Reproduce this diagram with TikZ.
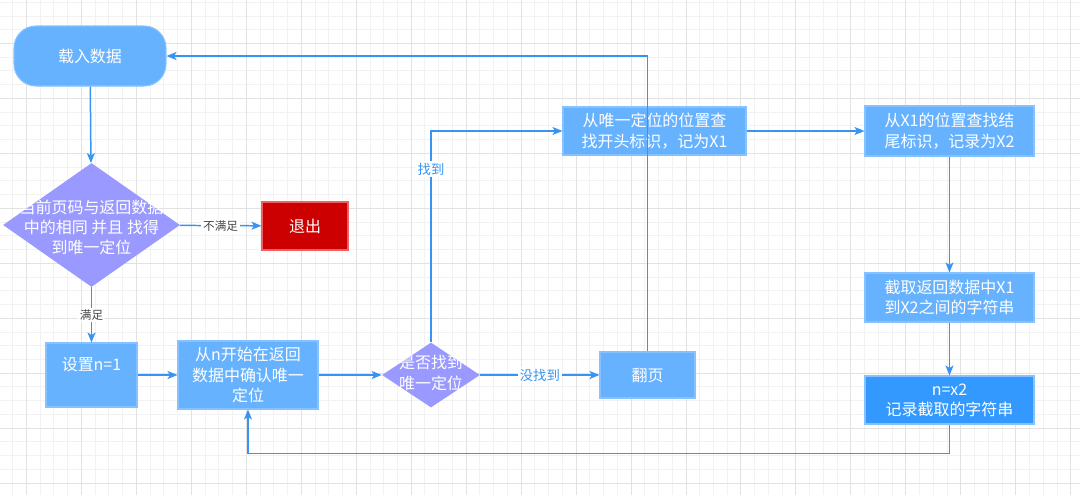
\documentclass[tikz,border=0pt]{standalone}
\usepackage{fontspec}
\setmainfont{Noto Sans CJK SC}
\usetikzlibrary{shapes.geometric,arrows.meta}
\definecolor{gridminor}{HTML}{F2F2F2}
\definecolor{gridmajor}{HTML}{E2E2E2}
\definecolor{boxblue}{HTML}{66B2FF}
\definecolor{boxline}{HTML}{85C2FF}
\definecolor{darkblue}{HTML}{3399FF}
\definecolor{diapurple}{HTML}{9999FF}
\definecolor{flowblue}{HTML}{3894F0}
\definecolor{quitred}{HTML}{CC0000}
\definecolor{quitline}{HTML}{F06060}
\definecolor{labelgrey}{HTML}{444444}

\begin{document}
\begin{tikzpicture}[x=0.02cm, y=-0.02cm,
  every node/.style={font=\fontsize{9.1}{11.5}\selectfont, text=white, align=center, inner sep=0pt},
  box/.style={rectangle, fill=boxblue, draw=boxline, line width=0.6pt},
  dia/.style={diamond, fill=diapurple, inner sep=0pt},
  flow/.style={draw=flowblue, line width=0.85pt, -{Stealth[length=0.2cm, width=0.16cm, inset=0.05cm]}},
  nolab/.style={fill=white, text=labelgrey, font=\fontsize{6.6}{8}\selectfont, inner sep=1pt},
  bluelab/.style={fill=white, text=flowblue, font=\fontsize{7.6}{9}\selectfont, inner sep=1pt}]
    \useasboundingbox (0,0) rectangle (1080,495);
    \fill[white] (0,0) rectangle (1080,495);
    \foreach \k in {0,...,77} \draw[gridminor, line width=0.5pt] ({12.7+13.74*\k},0) -- ++(0,495);
    \foreach \k in {0,...,35} \draw[gridminor, line width=0.5pt] (0,{2.2+13.74*\k}) -- ++(1080,0);
    \foreach \k in {1,5,...,77} \draw[gridmajor, line width=0.5pt] ({12.7+13.74*\k},0) -- ++(0,495);
    \foreach \k in {3,7,...,35} \draw[gridmajor, line width=0.5pt] (0,{2.2+13.74*\k}) -- ++(1080,0);

    \node[box, rounded corners=0.44cm, minimum width=3.04cm, minimum height=1.2cm] (load) at (90,56) {载入数据};
    \node[dia, minimum width=3.54cm, minimum height=2.48cm] (check) at (91.5,225) {};
    \node (checktext) at (91.5,227.5) {当前页码与返回数据\\中的相同 并且 找得\\到唯一定位};
    \node[box, fill=quitred, draw=quitline, minimum width=1.72cm, minimum height=0.96cm] (quit) at (305,226) {退出};
    \node[box, minimum width=1.82cm, minimum height=1.28cm, label={[yshift=0.2cm]center:设置n=1}] (setn) at (91.5,375) {};
    \node[box, minimum width=2.8cm, minimum height=1.36cm] (scan) at (248,375) {从n开始在返回\\数据中确认唯一\\定位};
    \node[dia, minimum width=1.96cm, minimum height=1.3cm] (found) at (431,375) {};
    \node (foundtext) at (431,373) {是否找到\\唯一定位};
    \node[box, minimum width=1.9cm, minimum height=0.92cm] (page) at (647.5,375) {翻页};
    \node[box, minimum width=3.66cm, minimum height=0.96cm] (headx) at (654.5,131) {从唯一定位的位置查\\找开头标识，记为X1};
    \node[box, minimum width=3.38cm, minimum height=1.0cm] (tailx) at (949.5,131) {从X1的位置查找结\\尾标识，记录为X2};
    \node[box, minimum width=3.38cm, minimum height=0.98cm] (cut) at (949.5,297.5) {截取返回数据中X1\\到X2之间的字符串};
    \node[box, fill=darkblue, minimum width=3.38cm, minimum height=0.96cm] (keep) at (949.5,400) {n=x2\\记录截取的字符串};

    \draw[flow] (load) -- (check);
    \draw[flow] (check) -- node[nolab] {不满足} (quit);
    \draw[flow] (check) -- node[nolab] {满足} (setn);
    \draw[flow] (setn) -- (scan);
    \draw[flow] (scan) -- (found);
    \draw[flow] (found) -- node[bluelab] {没找到} (page);
    \draw[flow] (found) |- node[bluelab, pos=0.41] {找到} (headx);
    \draw[flow] (page) |- (load);
    \draw[flow] (headx) -- (tailx);
    \draw[flow] (tailx) -- (cut);
    \draw[flow] (cut) -- (keep);
    \draw[flow] (keep.south) -- ++(0,29) -| (scan.south);
\end{tikzpicture}
\end{document}
